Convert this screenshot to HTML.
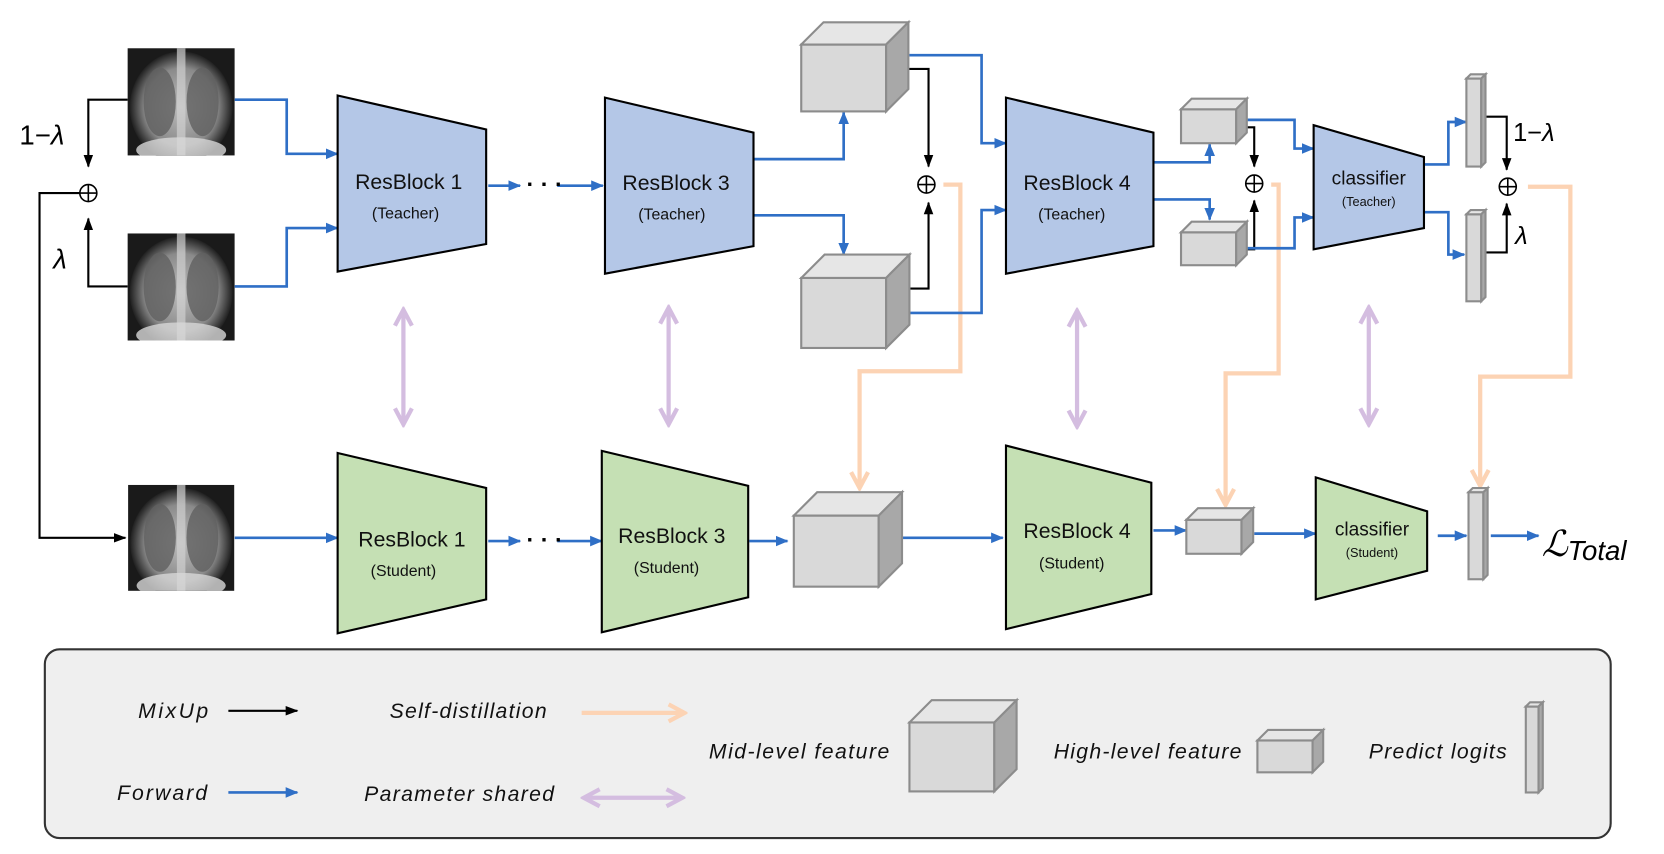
<!DOCTYPE html>
<html><head><meta charset="utf-8"><style>
html,body{margin:0;padding:0;background:#fff;}
svg{display:block;}
text{font-family:"Liberation Sans",sans-serif;}
</style></head><body>
<svg width="1664" height="854" viewBox="0 0 1568 805" xmlns="http://www.w3.org/2000/svg">
<defs>
<marker id="bl" markerUnits="userSpaceOnUse" markerWidth="12" markerHeight="12" refX="11" refY="6" orient="auto"><path d="M0,1 L12,6 L0,11 z" fill="#2f6fc6"/></marker>
<marker id="bk" markerUnits="userSpaceOnUse" markerWidth="12" markerHeight="12" refX="11" refY="6" orient="auto"><path d="M0,1.5 L12,6 L0,10.5 z" fill="#000"/></marker>
<marker id="pc" markerUnits="userSpaceOnUse" markerWidth="20" markerHeight="20" refX="17" refY="10" orient="auto"><path d="M2,2 L17,10 L2,18" fill="none" stroke="#fcd3b4" stroke-width="4"/></marker>
<marker id="pu" markerUnits="userSpaceOnUse" markerWidth="20" markerHeight="20" refX="17" refY="10" orient="auto"><path d="M2,2 L17,10 L2,18" fill="none" stroke="#d4bde0" stroke-width="4"/></marker>
<marker id="pus" markerUnits="userSpaceOnUse" markerWidth="20" markerHeight="20" refX="3" refY="10" orient="auto"><path d="M18,2 L3,10 L18,18" fill="none" stroke="#d4bde0" stroke-width="4"/></marker>
<radialGradient id="lung" cx="50%" cy="50%" r="50%"><stop offset="0" stop-color="#bdbdbd"/><stop offset="0.7" stop-color="#8a8a8a"/><stop offset="1" stop-color="#202020"/></radialGradient>
<symbol id="xray" viewBox="0 0 100 100">
<rect width="100" height="100" fill="#1a1a1a"/>
<ellipse cx="50" cy="55" rx="48" ry="52" fill="url(#lung)"/>
<ellipse cx="30" cy="50" rx="15" ry="32" fill="#606060" opacity="0.8"/>
<ellipse cx="70" cy="50" rx="15" ry="32" fill="#606060" opacity="0.8"/>
<rect x="46" y="0" width="8" height="100" fill="#d0d0d0" opacity="0.7"/>
<ellipse cx="50" cy="95" rx="42" ry="12" fill="#d8d8d8" opacity="0.8"/>
</symbol>
</defs>

<use href="#xray" x="120" y="45" width="101" height="102"/>
<use href="#xray" x="120" y="220" width="101" height="101"/>
<use href="#xray" x="120" y="457" width="101" height="100"/>

<g fill="none" stroke="#000" stroke-width="2">
<path d="M120,94 H83 V157" marker-end="url(#bk)"/>
<path d="M120,270 H83 V206" marker-end="url(#bk)"/>
<path d="M75,182 H37 V507 H118" marker-end="url(#bk)"/>
<path d="M835,65 H875 V157" marker-end="url(#bk)"/>
<path d="M835,272 H875 V191" marker-end="url(#bk)"/>
<path d="M1165,120 H1182 V157" marker-end="url(#bk)"/>
<path d="M1165,235 H1182 V189" marker-end="url(#bk)"/>
<path d="M1398,110 H1420 V160" marker-end="url(#bk)"/>
<path d="M1398,238 H1420 V192" marker-end="url(#bk)"/>
</g>
<g fill="none" stroke="#000" stroke-width="1.5">
<circle cx="83" cy="182" r="8"/><path d="M75,182 H91 M83,174 V190"/>
<circle cx="873" cy="174" r="8"/><path d="M865,174 H881 M873,166 V182"/>
<circle cx="1182" cy="173" r="8"/><path d="M1174,173 H1190 M1182,165 V181"/>
<circle cx="1421" cy="176" r="8"/><path d="M1413,176 H1429 M1421,168 V184"/>
</g>
<g font-family="Liberation Serif,serif" fill="#000">
<text x="18" y="136" font-size="26">1−<tspan font-style="italic">λ</tspan></text>
<text x="50" y="253" font-size="26" font-style="italic">λ</text>
<text x="1426" y="133" font-size="24">1−<tspan font-style="italic">λ</tspan></text>
<text x="1428" y="230" font-size="24" font-style="italic">λ</text>
</g>

<g fill="none" stroke="#fcd3b4" stroke-width="4">
<path d="M889,174 H905 V350 H810 V460" marker-end="url(#pc)"/>
<path d="M1198,174 H1205 V352 H1155 V476" marker-end="url(#pc)"/>
<path d="M1440,176 H1480 V355 H1395 V458" marker-end="url(#pc)"/>
</g>

<g fill="none" stroke="#d4bde0" stroke-width="4">
<path d="M380,292 V400" marker-end="url(#pu)" marker-start="url(#pus)"/>
<path d="M630,290 V400" marker-end="url(#pu)" marker-start="url(#pus)"/>
<path d="M1015,293 V402" marker-end="url(#pu)" marker-start="url(#pus)"/>
<path d="M1290,290 V400" marker-end="url(#pu)" marker-start="url(#pus)"/>
</g>

<g fill="none" stroke="#2f6fc6" stroke-width="2.5">
<path d="M221,94 H270 V145 H318" marker-end="url(#bl)"/>
<path d="M221,270 H270 V215 H318" marker-end="url(#bl)"/>
<path d="M460,175 H490" marker-end="url(#bl)"/>
<path d="M525,175 H568" marker-end="url(#bl)"/>
<path d="M710,150 H795 V106" marker-end="url(#bl)"/>
<path d="M710,203 H795 V240" marker-end="url(#bl)"/>
<path d="M857,52 H925 V135 H948" marker-end="url(#bl)"/>
<path d="M857,295 H925 V198 H948" marker-end="url(#bl)"/>
<path d="M1087,153 H1140 V136" marker-end="url(#bl)"/>
<path d="M1087,188 H1140 V207" marker-end="url(#bl)"/>
<path d="M1175,113 H1220 V140 H1238" marker-end="url(#bl)"/>
<path d="M1175,234 H1220 V205 H1238" marker-end="url(#bl)"/>
<path d="M1342,155 H1365 V115 H1382" marker-end="url(#bl)"/>
<path d="M1342,200 H1365 V240 H1380" marker-end="url(#bl)"/>
<path d="M221,507 H318" marker-end="url(#bl)"/>
<path d="M460,510 H490" marker-end="url(#bl)"/>
<path d="M525,510 H567" marker-end="url(#bl)"/>
<path d="M706,510 H742" marker-end="url(#bl)"/>
<path d="M850,507 H945" marker-end="url(#bl)"/>
<path d="M1087,500 H1118" marker-end="url(#bl)"/>
<path d="M1182,503 H1240" marker-end="url(#bl)"/>
<path d="M1355,505 H1382" marker-end="url(#bl)"/>
<path d="M1405,505 H1450" marker-end="url(#bl)"/>
</g>
<g font-size="22" font-weight="bold" fill="#000">
<text x="496" y="181">· · ·</text>
<text x="496" y="516">· · ·</text>
</g>

<g stroke="#000" stroke-width="2">
<polygon points="318,90 458,122 458,230 318,256" fill="#b4c7e7"/>
<polygon points="570,92 710,125 710,232 570,258" fill="#b4c7e7"/>
<polygon points="948,92 1087,125 1087,232 948,258" fill="#b4c7e7"/>
<polygon points="1238,118 1342,148 1342,215 1238,235" fill="#b4c7e7"/>
<polygon points="318,427 458,460 458,565 318,597" fill="#c5e0b4"/>
<polygon points="567,425 705,458 705,563 567,596" fill="#c5e0b4"/>
<polygon points="948,420 1085,455 1085,560 948,593" fill="#c5e0b4"/>
<polygon points="1240,450 1345,482 1345,538 1240,565" fill="#c5e0b4"/>
</g>
<g fill="#111" text-anchor="middle">
<text x="385" y="178" font-size="20">ResBlock 1</text><text x="382" y="206" font-size="15">(Teacher)</text>
<text x="637" y="179" font-size="20">ResBlock 3</text><text x="633" y="207" font-size="15">(Teacher)</text>
<text x="1015" y="179" font-size="20">ResBlock 4</text><text x="1010" y="207" font-size="15">(Teacher)</text>
<text x="1290" y="174" font-size="18">classifier</text><text x="1290" y="194" font-size="12">(Teacher)</text>
<text x="388" y="515" font-size="20">ResBlock 1</text><text x="380" y="543" font-size="15">(Student)</text>
<text x="633" y="512" font-size="20">ResBlock 3</text><text x="628" y="540" font-size="15">(Student)</text>
<text x="1015" y="507" font-size="20">ResBlock 4</text><text x="1010" y="536" font-size="15">(Student)</text>
<text x="1293" y="505" font-size="18">classifier</text><text x="1293" y="525" font-size="12">(Student)</text>
</g>

<g stroke="#8c8c8c" stroke-width="2">
<g><rect x="755" y="42" width="80" height="63" fill="#d9d9d9"/><polygon points="755,42 776,21 856,21 835,42" fill="#e6e6e6"/><polygon points="835,42 856,21 856,84 835,105" fill="#a8a8a8"/></g>
<g><rect x="755" y="262" width="80" height="66" fill="#d9d9d9"/><polygon points="755,262 777,240 857,240 835,262" fill="#e6e6e6"/><polygon points="835,262 857,240 857,306 835,328" fill="#a8a8a8"/></g>
<g><rect x="748" y="486" width="80" height="67" fill="#d9d9d9"/><polygon points="748,486 770,464 850,464 828,486" fill="#e6e6e6"/><polygon points="828,486 850,464 850,531 828,553" fill="#a8a8a8"/></g>
<g><rect x="1113" y="103" width="52" height="32" fill="#d9d9d9"/><polygon points="1113,103 1123,93 1175,93 1165,103" fill="#e6e6e6"/><polygon points="1165,103 1175,93 1175,125 1165,135" fill="#a8a8a8"/></g>
<g><rect x="1113" y="219" width="52" height="31" fill="#d9d9d9"/><polygon points="1113,219 1123,209 1175,209 1165,219" fill="#e6e6e6"/><polygon points="1165,219 1175,209 1175,240 1165,250" fill="#a8a8a8"/></g>
<g><rect x="1118" y="490" width="52" height="32" fill="#d9d9d9"/><polygon points="1118,490 1129,479 1181,479 1170,490" fill="#e6e6e6"/><polygon points="1170,490 1181,479 1181,511 1170,522" fill="#a8a8a8"/></g>
<g><rect x="1382" y="74" width="14" height="83" fill="#d9d9d9"/><polygon points="1382,74 1386,70 1400,70 1396,74" fill="#e6e6e6"/><polygon points="1396,74 1400,70 1400,153 1396,157" fill="#a8a8a8"/></g>
<g><rect x="1382" y="202" width="14" height="82" fill="#d9d9d9"/><polygon points="1382,202 1386,198 1400,198 1396,202" fill="#e6e6e6"/><polygon points="1396,202 1400,198 1400,280 1396,284" fill="#a8a8a8"/></g>
<g><rect x="1384" y="464" width="14" height="82" fill="#d9d9d9"/><polygon points="1384,464 1388,460 1402,460 1398,464" fill="#e6e6e6"/><polygon points="1398,464 1402,460 1402,542 1398,546" fill="#a8a8a8"/></g>
</g>
<text x="1453" y="524" font-family="Liberation Serif,serif" font-size="34" font-style="italic" fill="#000">ℒ<tspan font-size="26" dy="4">Total</tspan></text>

<rect x="42" y="612" width="1476" height="178" rx="14" fill="#efefef" stroke="#333" stroke-width="2"/>
<g font-size="20" font-style="italic" fill="#111" lengthAdjust="spacingAndGlyphs">
<text x="130" y="677" textLength="66">MixUp</text>
<text x="110" y="754" textLength="85">Forward</text>
<text x="367" y="677" textLength="148">Self-distillation</text>
<text x="343" y="755" textLength="179">Parameter shared</text>
<text x="668" y="715" textLength="170">Mid-level feature</text>
<text x="993" y="715" textLength="177">High-level feature</text>
<text x="1290" y="715" textLength="130">Predict logits</text>
</g>
<path d="M215,670 H280" stroke="#000" stroke-width="2" marker-end="url(#bk)"/>
<path d="M215,747 H280" stroke="#2f6fc6" stroke-width="2.5" marker-end="url(#bl)"/>
<path d="M548,672 H645" stroke="#fcd3b4" stroke-width="4" marker-end="url(#pc)"/>
<path d="M550,752 H643" stroke="#d4bde0" stroke-width="4" marker-end="url(#pu)" marker-start="url(#pus)"/>
<g stroke="#8c8c8c" stroke-width="2">
<g><rect x="857" y="681" width="80" height="65" fill="#d9d9d9"/><polygon points="857,681 878,660 958,660 937,681" fill="#e6e6e6"/><polygon points="937,681 958,660 958,725 937,746" fill="#a8a8a8"/></g>
<g><rect x="1185" y="698" width="52" height="30" fill="#d9d9d9"/><polygon points="1185,698 1195,688 1247,688 1237,698" fill="#e6e6e6"/><polygon points="1237,698 1247,688 1247,718 1237,728" fill="#a8a8a8"/></g>
<g><rect x="1438" y="666" width="12" height="81" fill="#d9d9d9"/><polygon points="1438,666 1442,662 1454,662 1450,666" fill="#e6e6e6"/><polygon points="1450,666 1454,662 1454,743 1450,747" fill="#a8a8a8"/></g>
</g>
</svg>
</body></html>
